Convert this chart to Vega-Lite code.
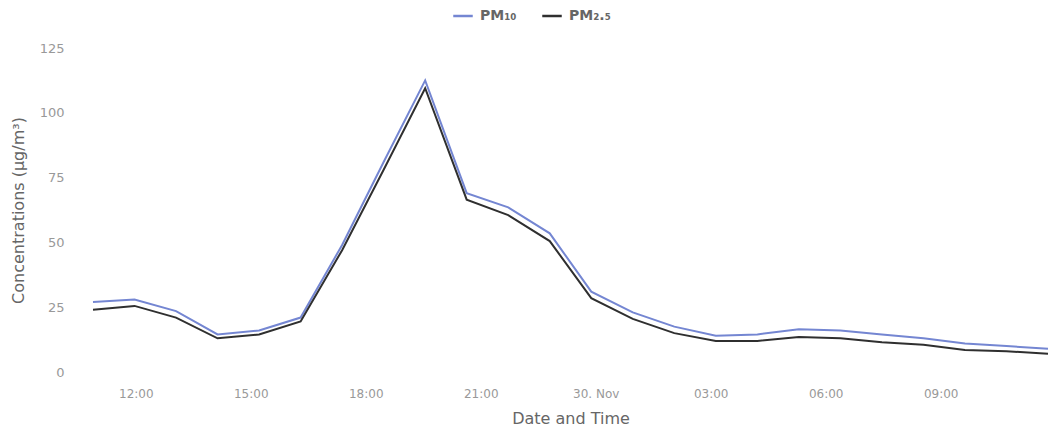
{
  "$schema": "https://vega.github.io/schema/vega-lite/v6.json",
  "autosize": "none",
  "width": 955,
  "height": 324,
  "padding": {"left": 93, "top": 48, "right": 2, "bottom": 60},
  "background": "#ffffff",
  "config": {
    "font": "DejaVu Sans",
    "view": {"stroke": null},
    "axis": {"domain": false, "ticks": false, "grid": false}
  },
  "data": {
    "values": [
      {"t": "2015-11-29T10:53:00", "pm10": 27, "pm25": 24},
      {"t": "2015-11-29T11:58:00", "pm10": 28, "pm25": 25.5},
      {"t": "2015-11-29T13:03:00", "pm10": 23.5, "pm25": 21},
      {"t": "2015-11-29T14:08:00", "pm10": 14.5, "pm25": 13},
      {"t": "2015-11-29T15:13:00", "pm10": 16, "pm25": 14.5},
      {"t": "2015-11-29T16:18:00", "pm10": 21, "pm25": 19.5},
      {"t": "2015-11-29T17:23:00", "pm10": 49, "pm25": 47},
      {"t": "2015-11-29T18:28:00", "pm10": 81, "pm25": 78},
      {"t": "2015-11-29T19:33:00", "pm10": 112.5, "pm25": 109.5},
      {"t": "2015-11-29T20:38:00", "pm10": 69, "pm25": 66.5},
      {"t": "2015-11-29T21:43:00", "pm10": 63.5, "pm25": 60.5},
      {"t": "2015-11-29T22:48:00", "pm10": 53.5, "pm25": 50.5},
      {"t": "2015-11-29T23:53:00", "pm10": 31, "pm25": 28.5},
      {"t": "2015-11-30T00:58:00", "pm10": 23, "pm25": 20.5},
      {"t": "2015-11-30T02:03:00", "pm10": 17.5, "pm25": 15},
      {"t": "2015-11-30T03:08:00", "pm10": 14, "pm25": 12},
      {"t": "2015-11-30T04:13:00", "pm10": 14.5, "pm25": 12},
      {"t": "2015-11-30T05:18:00", "pm10": 16.5, "pm25": 13.5},
      {"t": "2015-11-30T06:23:00", "pm10": 16, "pm25": 13},
      {"t": "2015-11-30T07:28:00", "pm10": 14.5, "pm25": 11.5},
      {"t": "2015-11-30T08:33:00", "pm10": 13, "pm25": 10.5},
      {"t": "2015-11-30T09:38:00", "pm10": 11, "pm25": 8.5},
      {"t": "2015-11-30T10:43:00", "pm10": 10, "pm25": 8},
      {"t": "2015-11-30T11:48:00", "pm10": 9, "pm25": 7}
    ]
  },
  "transform": [
    {"fold": ["pm10", "pm25"], "as": ["series", "value"]}
  ],
  "mark": {"type": "line", "strokeWidth": 2},
  "encoding": {
    "x": {
      "field": "t",
      "type": "temporal",
      "scale": {"nice": false},
      "axis": {
        "title": "Date and Time",
        "values": [
          {"year": 2015, "month": 11, "date": 29, "hours": 12},
          {"year": 2015, "month": 11, "date": 29, "hours": 15},
          {"year": 2015, "month": 11, "date": 29, "hours": 18},
          {"year": 2015, "month": 11, "date": 29, "hours": 21},
          {"year": 2015, "month": 11, "date": 30, "hours": 0},
          {"year": 2015, "month": 11, "date": 30, "hours": 3},
          {"year": 2015, "month": 11, "date": 30, "hours": 6},
          {"year": 2015, "month": 11, "date": 30, "hours": 9}
        ],
        "labelExpr": "hours(datum.value) == 0 ? timeFormat(datum.value, '%d. %b') : timeFormat(datum.value, '%H:%M')",
        "labelColor": "#999999",
        "labelFontSize": 12,
        "labelPadding": 16,
        "titleColor": "#666666",
        "titleFontSize": 16,
        "titleFontWeight": "normal",
        "titlePadding": 11
      }
    },
    "y": {
      "field": "value",
      "type": "quantitative",
      "scale": {"domain": [0, 125], "nice": false},
      "axis": {
        "title": "Concentrations (µg/m³)",
        "values": [0, 25, 50, 75, 100, 125],
        "labelColor": "#999999",
        "labelFontSize": 13,
        "labelPadding": 29,
        "titleColor": "#666666",
        "titleFontSize": 16,
        "titleFontWeight": "normal",
        "titlePadding": 13
      }
    },
    "color": {
      "field": "series",
      "type": "nominal",
      "scale": {"domain": ["pm10", "pm25"], "range": ["#7486d2", "#2f2f2f"]},
      "legend": {
        "title": null,
        "orient": "none",
        "direction": "horizontal",
        "legendX": 359,
        "legendY": -43,
        "symbolType": "stroke",
        "symbolStrokeWidth": 2.5,
        "symbolSize": 380,
        "labelExpr": "datum.value == 'pm10' ? 'PM₁₀' : 'PM₂.₅'",
        "labelFontWeight": "bold",
        "labelFontSize": 14,
        "labelColor": "#666666",
        "labelOffset": 6,
        "columnPadding": 20
      }
    }
  }
}
